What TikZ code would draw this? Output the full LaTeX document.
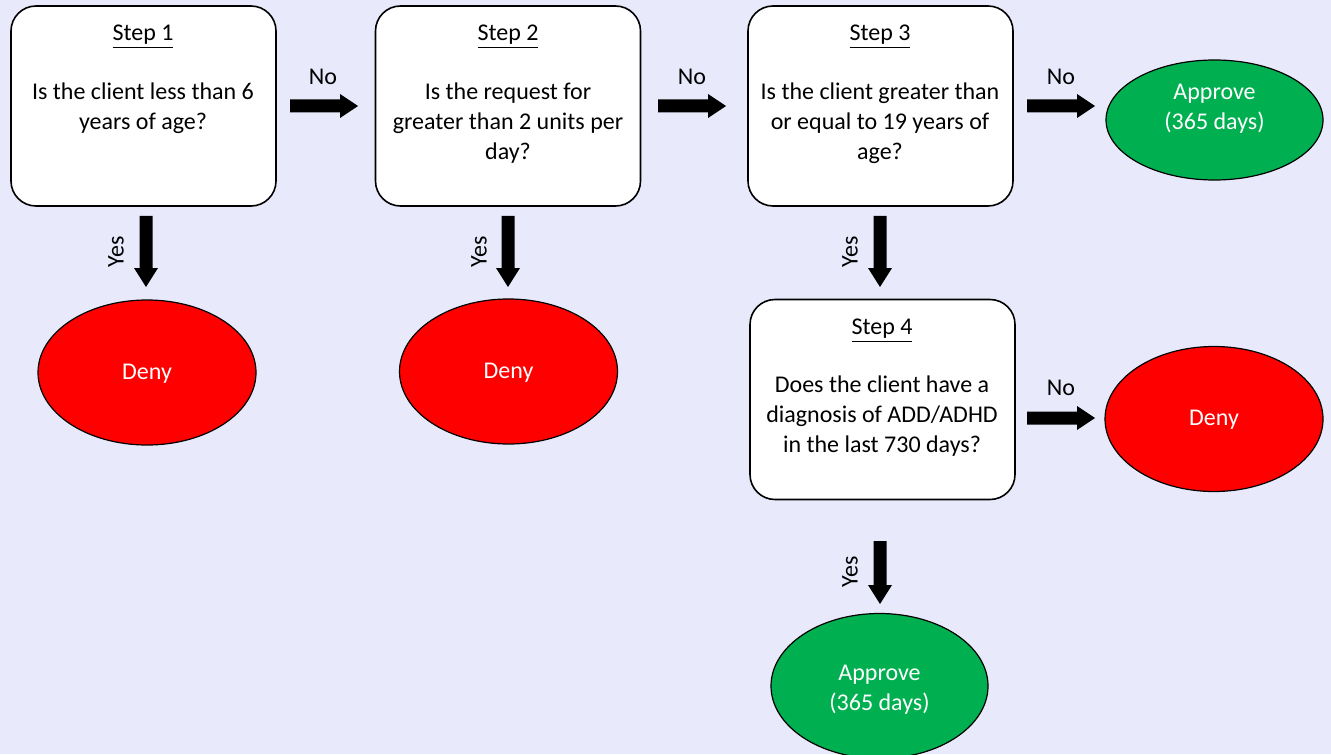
\documentclass[tikz,border=0pt]{standalone}
\usepackage{fontspec}
\setmainfont{Carlito}
\usetikzlibrary{shapes.geometric}
\definecolor{bgc}{RGB}{232,234,251}
\definecolor{okgreen}{RGB}{0,176,80}
\definecolor{nored}{RGB}{255,0,0}
\begin{document}
\begin{tikzpicture}[x=0.5pt,y=-0.5pt,
  stepbox/.style={draw=black,line width=0.8pt,fill=white,rounded corners=12.5pt,minimum width=132.5pt,minimum height=100pt,inner sep=0pt},
  txt/.style={font=\fontsize{12pt}{15pt}\selectfont,align=center,inner sep=0pt,text=black},
  wtxt/.style={txt,text=white},
  outcome/.style={ellipse,draw=black,line width=0.6pt,inner sep=0pt,font=\fontsize{12pt}{15pt}\selectfont,text=white,align=center},
  deny/.style={outcome,fill=nored,minimum width=109pt,minimum height=72.5pt},
  approve/.style={outcome,fill=okgreen,minimum width=108.5pt,minimum height=60pt},
  lbl/.style={font=\fontsize{12pt}{15pt}\selectfont,inner sep=0pt},
  pics/harr/.style={code={\fill[black] (0,-6.5) -- (50,-6.5) -- (50,-12) -- (68,0) -- (50,12) -- (50,6.5) -- (0,6.5) -- cycle;}},
  pics/varr/.style={code={\fill[black] (-6.5,0) -- (6.5,0) -- (6.5,#1) -- (12,#1) -- (0,#1+19) -- (-12,#1) -- (-6.5,#1) -- cycle;}}
]
\fill[bgc] (0,0) rectangle (1331,754);
\useasboundingbox (0,0) rectangle (1331,754);

% step boxes
\node[stepbox] (s1) at (143.5,106) {};
\node[stepbox] (s2) at (508,106) {};
\node[stepbox] (s3) at (880.5,106) {};
\node[stepbox] (s4) at (882.5,399.5) {};

\node[txt] (t1h) at (143,37) {\underline{Step 1}};
\node[txt] (t1) at (143,108) {Is the client less than 6\\years of age?};
\node[txt] (t2h) at (508,37) {\underline{Step 2}};
\node[txt] (t2) at (508,123) {Is the request for\\greater than 2 units per\\day?};
\node[txt] (t3h) at (880,37) {\underline{Step 3}};
\node[txt] (t3) at (880,123) {Is the client greater than\\or equal to 19 years of\\age?};
\node[txt] (t4h) at (882,331) {\underline{Step 4}};
\node[txt] (t4) at (882,416) {Does the client have a\\diagnosis of ADD/ADHD\\in the last 730 days?};

% outcomes
\node[deny] (d1) at (147,372.5) {};
\node[deny] (d2) at (508.5,371.5) {};
\node[approve] (a1) at (1214.5,120) {};
\node[deny] (d4) at (1214,419) {};
\node[approve,minimum height=72.5pt] (a4) at (879.5,686) {};
\node[wtxt] (d1t) at (147,374) {Deny};
\node[wtxt] (d2t) at (508.5,373) {Deny};
\node[wtxt] (d4t) at (1214,420) {Deny};
\node[wtxt] (a1t) at (1214.5,109) {Approve\\(365 days)};
\node[wtxt] (a4t) at (879.5,690) {Approve\\(365 days)};

% block arrows
\pic at (290,106) {harr};
\pic at (658,106) {harr};
\pic at (1027,106) {harr};
\pic at (1027,418) {harr};
\pic at (146,216) {varr=52};
\pic at (508,216) {varr=52};
\pic at (880,216) {varr=52};
\pic at (880,541) {varr=44};

% labels
\node[lbl] (n1) at (323,77) {No};
\node[lbl] (n2) at (692,77) {No};
\node[lbl] (n3) at (1061,77) {No};
\node[lbl] (n4) at (1061,388) {No};
\node[lbl,rotate=90] (y1) at (116,252) {Yes};
\node[lbl,rotate=90] (y2) at (479,252) {Yes};
\node[lbl,rotate=90] (y3) at (850,252) {Yes};
\node[lbl,rotate=90] (y4) at (850,572) {Yes};
\end{tikzpicture}
\end{document}
